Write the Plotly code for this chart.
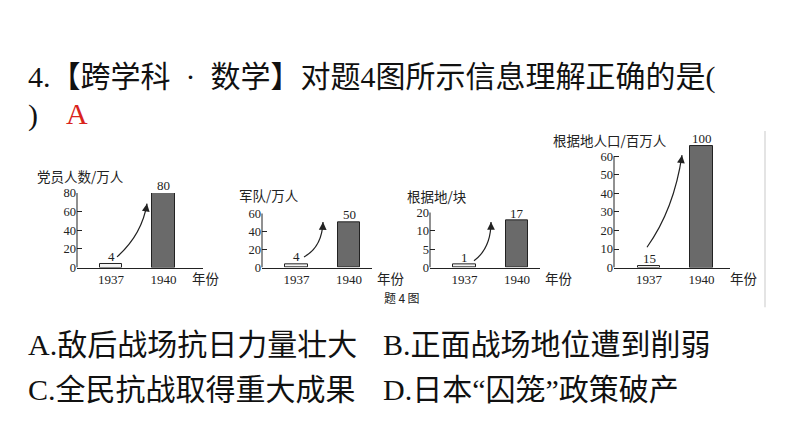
import plotly.graph_objects as go

W, H = 794, 447

# ---------------- data ----------------
years = ["1937", "1940"]

party_members = [4, 80]            # 党员人数 / 万人
party_ticks = [0, 20, 40, 60, 80]

army = [4, 50]                     # 军队 / 万人
army_ticks = [0, 20, 40, 60]

bases = [1, 17]                    # 根据地 / 块
bases_tick_labels = ["0", "5", "10", "20"]   # drawn evenly spaced in the source figure

population_labels = [15, 100]      # 根据地人口 / 百万人 (printed values)
population_drawn = [1, 65.5]       # bar heights as drawn against the printed axis
population_ticks = [0, 10, 20, 30, 40, 50, 60]

question = "4.【跨学科\u2002·\u2002数学】对题4图所示信息理解正确的是("
answer = "A"
options = ["A.敌后战场抗日力量壮大", "B.正面战场地位遭到削弱",
           "C.全民抗战取得重大成果", "D.日本“囚笼”政策破产"]
caption = "题\u20094\u2009图"
unit_label = "年份"

# ---------------- layout helpers ----------------
def px(x):
    return x / W

def py(y):
    return 1 - y / H

SERIF = "Liberation Serif, Noto Sans CJK SC"
CJK = "Noto Sans CJK SC"
INK = "#222222"
UNIT_X = 52.5          # pixels per category step
BASE_Y = 269           # pixel row of the zero line

panels = [
    dict(title="党员人数/万人", heights=party_members, labels=party_members,
         tickvals=party_ticks, ticktext=[str(t) for t in party_ticks],
         ymax=80, axis_top=80, ppu=77 / 80, x0=77, x1=203, c0=111,
         title_xy=(35, 174), unit_x=190,
         arrow=[(117, 258), (142, 235), (147, 203)]),
    dict(title="军队/万人", heights=army, labels=army,
         tickvals=army_ticks, ticktext=[str(t) for t in army_ticks],
         ymax=60, axis_top=60, ppu=56 / 60, x0=262, x1=372, c0=296.5,
         title_xy=(237, 194), unit_x=375,
         arrow=[(304, 258), (322, 248), (323, 222)]),
    dict(title="根据地/块", heights=bases, labels=bases,
         tickvals=[0, 20 / 3, 40 / 3, 20], ticktext=bases_tick_labels,
         ymax=20, axis_top=20, ppu=57 / 20, x0=430, x1=540, c0=464.5,
         title_xy=(405, 195), unit_x=543,
         arrow=[(474, 262), (491, 249), (491, 222)]),
    dict(title="根据地人口/百万人", heights=population_drawn, labels=population_labels,
         tickvals=population_ticks, ticktext=[str(t) for t in population_ticks],
         ymax=66, axis_top=60, ppu=115 / 60, x0=614, x1=730, c0=649,
         title_xy=(551, 137), unit_x=728,
         arrow=[(647, 248), (674, 209), (682, 153)]),
]

fig = go.Figure()
annotations = []
shapes = []
layout_axes = {}

for i, p in enumerate(panels, start=1):
    xa = "x" if i == 1 else f"x{i}"
    ya = "y" if i == 1 else f"y{i}"
    xkey = "xaxis" if i == 1 else f"xaxis{i}"
    ykey = "yaxis" if i == 1 else f"yaxis{i}"

    fig.add_trace(go.Bar(
        x=[0, 1], y=p["heights"], width=0.42,
        marker=dict(color=["#f4f4f4", "#6a6a6a"], line=dict(color=INK, width=1)),
        xaxis=xa, yaxis=ya, hoverinfo="skip",
    ))

    top_px = BASE_Y - p["ymax"] * p["ppu"]
    layout_axes[xkey] = dict(
        domain=[px(p["x0"]), px(p["x1"])],
        range=[-(p["c0"] - p["x0"]) / UNIT_X, (p["x1"] - p["c0"]) / UNIT_X],
        anchor=ya, showline=True, linecolor=INK, linewidth=1,
        showgrid=False, zeroline=False, ticks="",
        tickvals=[0, 1], ticktext=years,
        tickfont=dict(family=SERIF, size=13, color=INK),
        fixedrange=True,
    )
    layout_axes[ykey] = dict(
        domain=[py(BASE_Y), py(top_px)],
        range=[0, p["ymax"]], anchor=xa,
        showline=False, showgrid=False, zeroline=False,
        ticks="inside", ticklen=5, tickcolor=INK, tickwidth=1,
        tickvals=p["tickvals"], ticktext=p["ticktext"],
        tickfont=dict(family=SERIF, size=12.5, color=INK),
        fixedrange=True,
    )
    # y axis line up to the top tick
    shapes.append(dict(type="line", xref=f"{xa} domain", yref=ya,
                       x0=0, x1=0, y0=0, y1=p["axis_top"],
                       line=dict(color=INK, width=1)))
    # value labels
    for j in range(2):
        annotations.append(dict(x=j, y=p["heights"][j], xref=xa, yref=ya,
                                text=str(p["labels"][j]), showarrow=False,
                                xanchor="center", yanchor="bottom", yshift=-2,
                                font=dict(family=SERIF, size=13, color=INK)))
    # axis title
    tx, ty = p["title_xy"]
    annotations.append(dict(x=px(tx), y=py(ty), xref="paper", yref="paper",
                            text=p["title"], showarrow=False,
                            xanchor="left", yanchor="middle",
                            font=dict(family=CJK, size=13.5, color=INK)))
    # unit label
    annotations.append(dict(x=px(p["unit_x"]), y=py(280), xref="paper", yref="paper",
                            text=unit_label, showarrow=False,
                            xanchor="left", yanchor="middle",
                            font=dict(family=CJK, size=13.5, color=INK)))
    # curved growth arrow
    (sx, sy), (cx, cy), (ex, ey) = p["arrow"]
    shapes.append(dict(type="path", xref="paper", yref="paper",
                       path=f"M {px(sx)},{py(sy)} Q {px(cx)},{py(cy)} {px(ex)},{py(ey)}",
                       line=dict(color=INK, width=1.2)))
    dx, dy = ex - cx, ey - cy
    n = (dx * dx + dy * dy) ** 0.5
    annotations.append(dict(x=px(ex), y=py(ey), xref="paper", yref="paper",
                            ax=-dx / n * 8, ay=-dy / n * 8, text="",
                            showarrow=True, arrowhead=2, arrowsize=1.3,
                            arrowwidth=1.2, arrowcolor=INK, standoff=0))

# caption and frame line
annotations.append(dict(x=px(401), y=py(300), xref="paper", yref="paper",
                        text=caption, showarrow=False,
                        xanchor="center", yanchor="middle",
                        font=dict(family=CJK, size=12, color=INK)))
shapes.append(dict(type="line", xref="paper", yref="paper",
                   x0=px(765), x1=px(765), y0=py(128), y1=py(310),
                   line=dict(color="#e4e4e4", width=2)))

# question text
TEXT_FONT = dict(family=SERIF, size=30, color="#111111")
annotations.append(dict(x=px(26), y=py(72), xref="paper", yref="paper",
                        text=question, showarrow=False, xanchor="left",
                        yanchor="middle", font=TEXT_FONT))
annotations.append(dict(x=px(26), y=py(112), xref="paper", yref="paper",
                        text=")", showarrow=False, xanchor="left",
                        yanchor="middle", font=TEXT_FONT))
annotations.append(dict(x=px(64), y=py(110), xref="paper", yref="paper",
                        text=answer, showarrow=False, xanchor="left",
                        yanchor="middle",
                        font=dict(family=SERIF, size=30, color="#d9241c")))
for k, opt in enumerate(options):
    ox = 26 if k % 2 == 0 else 381
    oy = 348 if k < 2 else 395
    annotations.append(dict(x=px(ox), y=py(oy), xref="paper", yref="paper",
                            text=opt, showarrow=False, xanchor="left",
                            yanchor="middle", font=TEXT_FONT))

fig.update_layout(
    width=W, height=H, margin=dict(l=0, r=0, t=0, b=0),
    paper_bgcolor="white", plot_bgcolor="rgba(0,0,0,0)",
    showlegend=False, bargap=0,
    annotations=annotations, shapes=shapes,
    **layout_axes,
)

fig.write_html("out.html", config={"displayModeBar": False})
